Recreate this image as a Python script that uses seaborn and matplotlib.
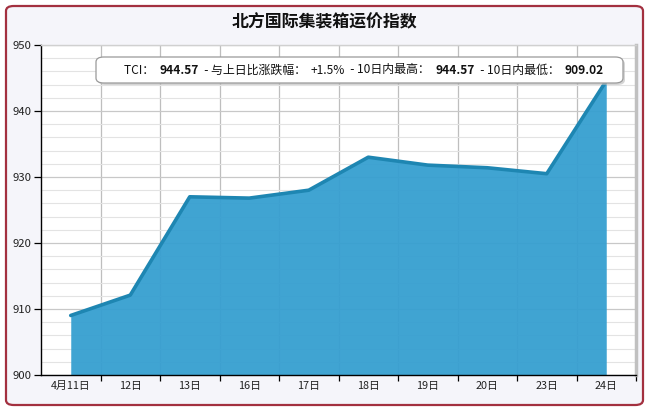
import matplotlib
matplotlib.use("Agg")
import matplotlib.pyplot as plt
import seaborn as sns
import pandas as pd
from matplotlib.patches import FancyBboxPatch
from matplotlib.ticker import MultipleLocator, FixedLocator

dates = ["4月11日", "12日", "13日", "16日", "17日", "18日", "19日", "20日", "23日", "24日"]
tci = [909.02, 912.1, 927.0, 926.8, 928.0, 933.0, 931.8, 931.4, 930.5, 944.57]
title = "北方国际集装箱运价指数"
yticks = [900, 910, 920, 930, 940, 950]

sns.set_theme(style="white")
plt.rcParams["font.family"] = ["Noto Sans CJK SC", "DejaVu Sans"]

df = pd.DataFrame({"x": range(len(dates)), "date": dates, "tci": tci})

fig = plt.figure(figsize=(6.49, 4.11), dpi=100)
fig.patch.set_facecolor("white")
border = FancyBboxPatch((6 / 649, 6 / 411), 637 / 649, 399 / 411,
                        boxstyle="round,pad=0,rounding_size=0.012",
                        transform=fig.transFigure, facecolor="#F5F5FA",
                        edgecolor="#A3303F", linewidth=1.6, zorder=-5)
fig.patches.append(border)

ax = fig.add_axes([41 / 649, 36 / 411, 595 / 649, 330 / 411])
ax.set_facecolor("white")

ax.fill_between(df["x"], 900, df["tci"], color="#369FD0", alpha=0.95, linewidth=0, zorder=2)
sns.lineplot(data=df, x="x", y="tci", ax=ax, color="#1E86B2", linewidth=2.6, zorder=3)

ax.set_xlim(-0.5, len(dates) - 0.5)
ax.set_ylim(900, 950)
ax.yaxis.set_major_locator(FixedLocator(yticks))
ax.yaxis.set_minor_locator(MultipleLocator(2))
ax.set_xticks(range(len(dates)))
ax.set_xticklabels(dates)
ax.xaxis.set_minor_locator(FixedLocator([i + 0.5 for i in range(len(dates))]))

ax.grid(which="minor", axis="y", color="#E3E3E3", linewidth=0.8, zorder=1)
ax.grid(which="major", axis="y", color="#C8C8C8", linewidth=0.9, zorder=1)
ax.grid(which="minor", axis="x", color="#BEBEBE", linewidth=0.9, zorder=1)
ax.grid(which="major", axis="x", visible=False)
ax.set_axisbelow(True)

ax.tick_params(axis="x", which="major", length=0, labelsize=7.8, pad=4, colors="#222222")
ax.tick_params(axis="x", which="minor", length=4, width=0.9, color="black", direction="out", bottom=True)
ax.tick_params(axis="y", which="major", length=5, width=0.9, color="black", direction="out",
               left=True, labelsize=8.2, pad=2, colors="#222222")
ax.tick_params(axis="y", which="minor", length=0)
ax.set_xlabel("")
ax.set_ylabel("")

for s in ["left", "bottom"]:
    ax.spines[s].set_color("black")
    ax.spines[s].set_linewidth(1.0)
ax.spines["top"].set_color("#D0D0D0")
ax.spines["top"].set_linewidth(1.0)
ax.spines["right"].set_color("#C0C0C0")
ax.spines["right"].set_linewidth(2.5)

fig.text(0.5, 1 - 22 / 411, title, ha="center", va="center", fontsize=12.2, fontweight="bold", color="#111111")

# info box
box = FancyBboxPatch((96 / 649, 1 - 83 / 411), 527 / 649, 26 / 411,
                     boxstyle="round,pad=0,rounding_size=0.012", transform=fig.transFigure,
                     facecolor="white", edgecolor="#9A9A9A", linewidth=0.9, zorder=5)
shadow = FancyBboxPatch((98 / 649, 1 - 85 / 411), 527 / 649, 26 / 411,
                        boxstyle="round,pad=0,rounding_size=0.012", transform=fig.transFigure,
                        facecolor="#BBBBBB", edgecolor="none", alpha=0.6, zorder=4)
fig.patches.append(shadow)
fig.patches.append(box)

last = tci[-1]
prev = tci[-2]
chg = (last - prev) / prev * 100
pieces = [
    ("TCI：  ", "normal"), (f"{last:.2f}", "bold"),
    ("  - 与上日比涨跌幅：  ", "normal"), (f"{chg:+.1f}%", "normal"),
    ("  - 10日内最高：  ", "normal"), (f"{max(tci):.2f}", "bold"),
    ("  - 10日内最低：  ", "normal"), (f"{min(tci):.2f}", "bold"),
]
fig.canvas.draw()
renderer = fig.canvas.get_renderer()
xpix = 124
ypix = 411 - 70
for txt, w in pieces:
    t = fig.text(xpix / 649, ypix / 411, txt, ha="left", va="center", fontsize=8.6,
                 fontweight=w, color="#111111", zorder=6)
    bb = t.get_window_extent(renderer=renderer)
    xpix += bb.width

fig.savefig("out.png", dpi=100, facecolor=fig.get_facecolor())
